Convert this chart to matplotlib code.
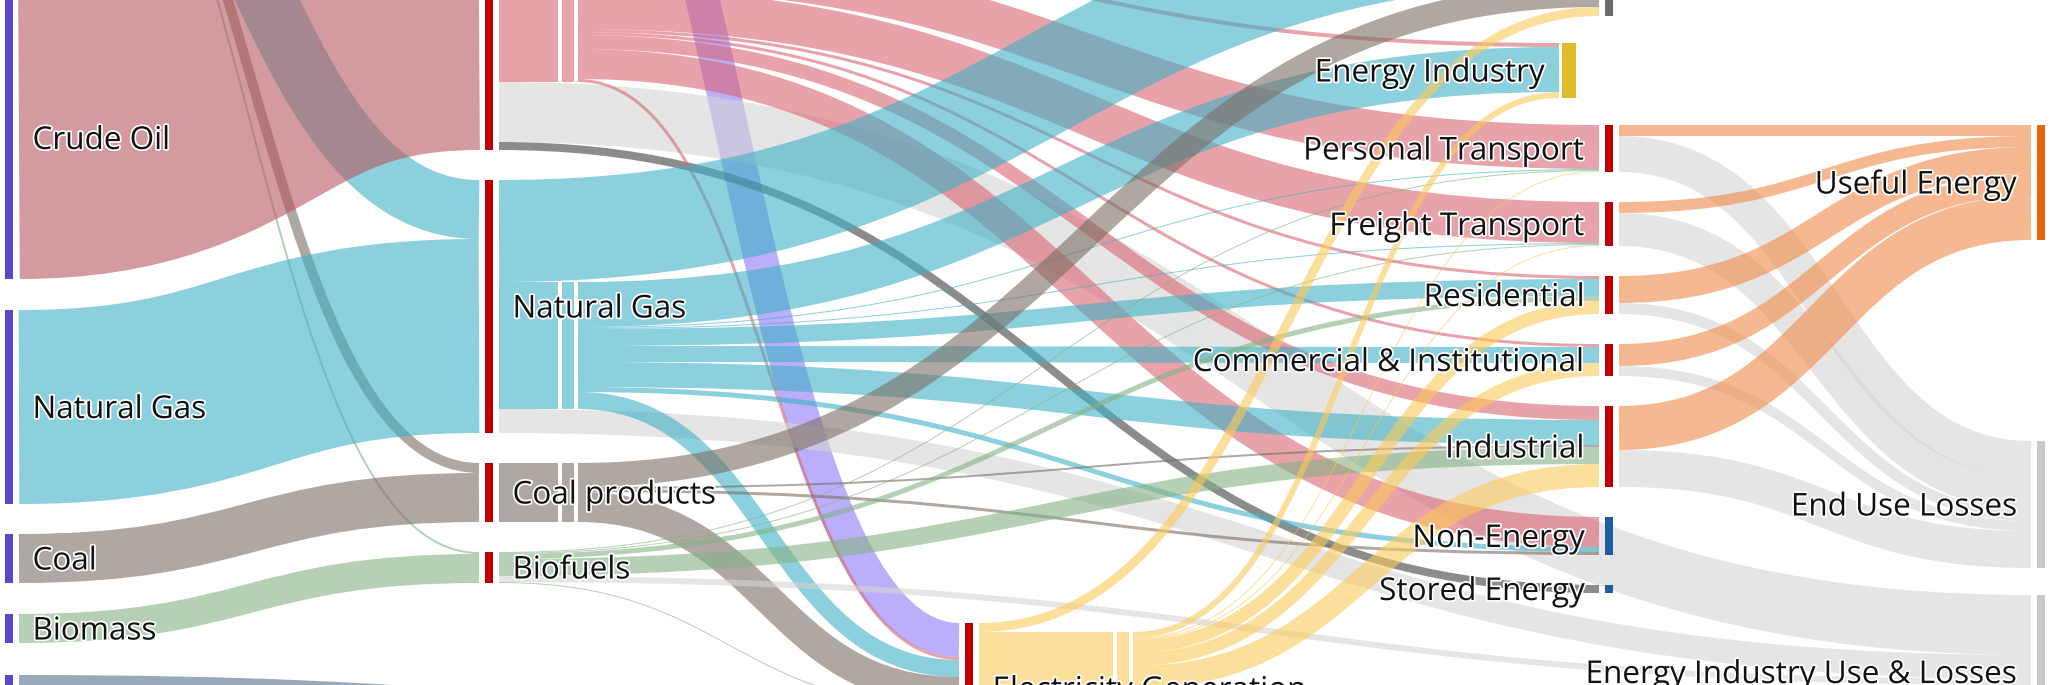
import matplotlib
matplotlib.use("Agg")
import matplotlib.pyplot as plt
from matplotlib.path import Path
from matplotlib.patches import PathPatch, Rectangle
import matplotlib.patheffects as pe
from matplotlib.colors import to_rgb

# ------------------------------------------------------------------ data (PJ)
NODE_KEYS = ["imports", "crude", "gas0", "coal0", "biomass", "hydro",
             "nuclear", "rpp", "gas1", "coalp", "biofuels",
             "rpp_d", "gas_d", "coal_d",
             "elec", "elec_d",
             "energy_ind", "exports", "personal", "freight", "residential",
             "commercial", "industrial", "non_energy", "stored",
             "useful", "end_loss", "ei_loss"]
NODE_LABELS = ["Imports", "Crude Oil", "Natural Gas", "Coal", "Biomass", "Hydro",
               "Nuclear", "Refined Petroleum Products", "Natural Gas", "Coal products", "Biofuels",
               "", "", "",
               "Electricity Generation", "",
               "Energy Industry", "Exports", "Personal Transport", "Freight Transport", "Residential",
               "Commercial & Institutional", "Industrial", "Non-Energy", "Stored Energy",
               "Useful Energy", "End Use Losses", "Energy Industry Use & Losses"]

LINK_SOURCE = ["imports", "imports", "imports", "imports",
               "crude", "gas0", "coal0", "biomass", "hydro", "nuclear",
               "rpp", "rpp", "rpp",
               "rpp_d", "rpp_d", "rpp_d", "rpp_d", "rpp_d", "rpp_d", "rpp_d", "rpp_d", "rpp_d",
               "gas1", "gas1", "gas1",
               "gas_d", "gas_d", "gas_d", "gas_d", "gas_d", "gas_d", "gas_d", "gas_d",
               "coalp",
               "coal_d", "coal_d", "coal_d", "coal_d",
               "biofuels", "biofuels", "biofuels", "biofuels", "biofuels", "biofuels",
               "elec", "elec",
               "elec_d", "elec_d", "elec_d", "elec_d", "elec_d", "elec_d", "elec_d",
               "personal", "personal", "freight", "freight", "residential", "residential",
               "commercial", "commercial", "industrial", "industrial"]
LINK_TARGET = ["coalp", "biofuels", "gas1", "rpp",
               "rpp", "gas1", "coalp", "biofuels", "elec", "elec",
               "rpp_d", "ei_loss", "stored",
               "exports", "energy_ind", "personal", "freight", "residential", "commercial",
               "industrial", "non_energy", "elec",
               "exports", "gas_d", "ei_loss",
               "energy_ind", "personal", "freight", "residential", "commercial", "industrial",
               "non_energy", "elec",
               "coal_d",
               "exports", "industrial", "non_energy", "elec",
               "personal", "freight", "residential", "industrial", "ei_loss", "elec",
               "exports", "elec_d",
               "energy_ind", "personal", "freight", "residential", "commercial", "industrial", "ei_loss",
               "useful", "end_loss", "useful", "end_loss", "useful", "end_loss",
               "useful", "end_loss", "useful", "end_loss"]
LINK_VALUE = [300, 60, 1770, 6780,
              8460, 5820, 1470, 870, 1350, 1020,
              13200, 1800, 240,
              8940, 120, 1320, 1230, 90, 90, 420, 900, 90,
              3060, 3810, 720,
              1350, 30, 30, 510, 480, 750, 150, 510,
              1770,
              720, 60, 90, 900,
              30, 30, 150, 510, 180, 30,
              270, 3630,
              180, 30, 30, 390, 390, 690, 1920,
              330, 1080, 330, 990, 810, 330,
              660, 300, 1320, 1110]
LINK_KIND = ["coal", "bio", "gas", "crude",
             "crude", "gas", "coal", "bio", "hydro", "nuclear",
             "oil", "loss", "stored",
             "oil", "oil", "oil", "oil", "oil", "oil", "oil", "oil", "oil",
             "gas", "gas", "loss",
             "gas", "gas", "gas", "gas", "gas", "gas", "gas", "gas",
             "coal",
             "coal", "coal", "coal", "coal",
             "bio", "bio", "bio", "bio", "loss", "bio",
             "elec", "elec",
             "elec", "elec", "elec", "elec", "elec", "elec", "loss",
             "useful", "loss", "useful", "loss", "useful", "loss",
             "useful", "loss", "useful", "loss"]

# ------------------------------------------------------------------ layout / style
W, H = 2057, 685
DPI = 100
SCALE = 1.0 / 30.0          # px per PJ
NODE_W = 20
ALPHA = 0.6
FONT_PX = 31.5

COL_X = {"imports": -1, "crude": -1, "gas0": -1, "coal0": -1, "biomass": -1, "hydro": -1,
         "nuclear": 479, "rpp": 479, "gas1": 479, "coalp": 479, "biofuels": 479,
         "rpp_d": 558, "gas_d": 558, "coal_d": 558,
         "elec": 959, "elec_d": 1113, "energy_ind": 1559,
         "exports": 1599, "personal": 1599, "freight": 1599, "residential": 1599,
         "commercial": 1599, "industrial": 1599, "non_energy": 1599, "stored": 1599,
         "useful": 2031, "end_loss": 2031, "ei_loss": 2031}
ANCHOR = {"imports": ("bottom", -33), "crude": ("top", -3),
          "gas0": ("top", 310), "coal0": ("top", 534), "biomass": ("top", 614),
          "hydro": ("top", 675),
          "nuclear": ("bottom", -388), "rpp": ("bottom", 150), "gas1": ("top", 180),
          "coalp": ("top", 463), "biofuels": ("top", 552),
          "rpp_d": ("follow", None), "gas_d": ("follow", None), "coal_d": ("follow", None),
          "elec": ("top", 623), "elec_d": ("follow", None), "energy_ind": ("top", 43),
          "exports": ("bottom", 16), "personal": ("top", 125), "freight": ("top", 202),
          "residential": ("top", 276), "commercial": ("top", 344), "industrial": ("top", 406),
          "non_energy": ("top", 517), "stored": ("top", 585),
          "useful": ("top", 125), "end_loss": ("top", 441), "ei_loss": ("top", 595)}
MARGIN = {k: 6 for k in NODE_KEYS}
for k in ("rpp_d", "gas_d", "coal_d", "elec_d"):
    MARGIN[k] = 4
MARGIN["energy_ind"] = 3

LINK_COLORS = {"crude": "#d39a9f", "oil": "#e9a2aa", "gas": "#8bd0dc", "coal": "#b0a8a2",
               "bio": "#b5d1b5", "elec": "#fedf9c", "loss": "#e6e6e6", "stored": "#8c8c8c",
               "useful": "#f6b990", "hydro": "#97a9ba", "nuclear": "#bcaefa"}
PRIMARY = "#5b46c9"
RED = "#c00000"
NODE_COLORS = {"imports": PRIMARY, "crude": PRIMARY, "gas0": PRIMARY,
               "coal0": PRIMARY, "biomass": PRIMARY, "hydro": PRIMARY,
               "nuclear": RED, "rpp": RED, "gas1": RED, "coalp": RED, "biofuels": RED,
               "elec": RED, "energy_ind": "#dfbd2b", "exports": "#6b6b6b",
               "personal": RED, "freight": RED, "residential": RED, "commercial": RED,
               "industrial": RED, "non_energy": "#1f5e9e", "stored": "#1f5e9e",
               "useful": "#e8650c", "end_loss": "#c8c8c8", "ei_loss": "#c8c8c8"}
DIST_KIND = {"rpp_d": "oil", "gas_d": "gas", "coal_d": "coal", "elec_d": "elec"}


def on_white_to_rgba(hexcol, a):
    r, g, b = to_rgb(hexcol)
    return tuple(min(1.0, max(0.0, 1 - (1 - c) / a)) for c in (r, g, b)) + (a,)


# ------------------------------------------------------------------ sankey layout
n_links = len(LINK_VALUE)
inflow = {k: 0.0 for k in NODE_KEYS}
outflow = {k: 0.0 for k in NODE_KEYS}
for s, t, v in zip(LINK_SOURCE, LINK_TARGET, LINK_VALUE):
    outflow[s] += v
    inflow[t] += v
height = {k: max(inflow[k], outflow[k]) * SCALE for k in NODE_KEYS}

y0 = {}
for k in NODE_KEYS:
    kind, val = ANCHOR[k]
    if kind == "top":
        y0[k] = val
    elif kind == "bottom":
        y0[k] = val - height[k]

# stack links at their sources (list order); distribution nodes follow their feed link
src_y = [None] * n_links
for _ in range(4):
    for s in NODE_KEYS:
        if s not in y0:
            continue
        cur = y0[s]
        for i in range(n_links):
            if LINK_SOURCE[i] == s:
                h = LINK_VALUE[i] * SCALE
                src_y[i] = (cur, cur + h)
                cur += h
                t = LINK_TARGET[i]
                if ANCHOR[t][0] == "follow" and t not in y0:
                    y0[t] = src_y[i][0]

# stack links at their targets, ordered by source position
tgt_y = [None] * n_links
for t in NODE_KEYS:
    idx = [i for i in range(n_links) if LINK_TARGET[i] == t]
    idx.sort(key=lambda i: (y0[LINK_SOURCE[i]], i))
    cur = y0[t]
    for i in idx:
        h = LINK_VALUE[i] * SCALE
        tgt_y[i] = (cur, cur + h)
        cur += h

# ------------------------------------------------------------------ drawing
plt.rcParams["font.family"] = ["Open Sans", "DejaVu Sans"]
fig = plt.figure(figsize=(W / DPI, H / DPI), dpi=DPI)
ax = fig.add_axes([0, 0, 1, 1])
ax.set_xlim(0, W)
ax.set_ylim(H, 0)
ax.axis("off")

# links: centre-line curves stroked with the flow's width (d3 style)
for i in range(n_links):
    s, t = LINK_SOURCE[i], LINK_TARGET[i]
    xa = COL_X[s] + NODE_W
    xb = COL_X[t]
    xm = (xa + xb) / 2
    ys = sum(src_y[i]) / 2
    yt = sum(tgt_y[i]) / 2
    width_px = LINK_VALUE[i] * SCALE
    path = Path([(xa, ys), (xm, ys), (xm, yt), (xb, yt)],
                [Path.MOVETO, Path.CURVE4, Path.CURVE4, Path.CURVE4])
    ax.add_patch(PathPatch(path, facecolor="none",
                           edgecolor=on_white_to_rgba(LINK_COLORS[LINK_KIND[i]], ALPHA),
                           lw=width_px * 72.0 / DPI, capstyle="butt", joinstyle="round",
                           zorder=1))

for k, lab in zip(NODE_KEYS, NODE_LABELS):
    m = MARGIN[k]
    x = COL_X[k]
    if k in DIST_KIND:
        col = on_white_to_rgba(LINK_COLORS[DIST_KIND[k]], ALPHA)
    else:
        col = NODE_COLORS[k]
    ax.add_patch(Rectangle((x + m, y0[k]), NODE_W - 2 * m, height[k],
                           facecolor=col, edgecolor="none", zorder=2))
    if not lab:
        continue
    cy = y0[k] + height[k] / 2
    # only nodes whose label falls inside the visible window get a label
    if cy > H + 8 or cy < -8:
        continue
    base = cy + 0.35 * FONT_PX
    if x < W / 2:
        tx, ha = x + NODE_W + 13.5, "left"
    else:
        tx, ha = x - 14, "right"
    ax.text(tx, base, lab, ha=ha, va="baseline", fontsize=FONT_PX * 0.72,
            color="#111111", zorder=3, clip_on=True,
            path_effects=[pe.withStroke(linewidth=2.5, foreground="white")])

fig.savefig("out.png", dpi=DPI)
